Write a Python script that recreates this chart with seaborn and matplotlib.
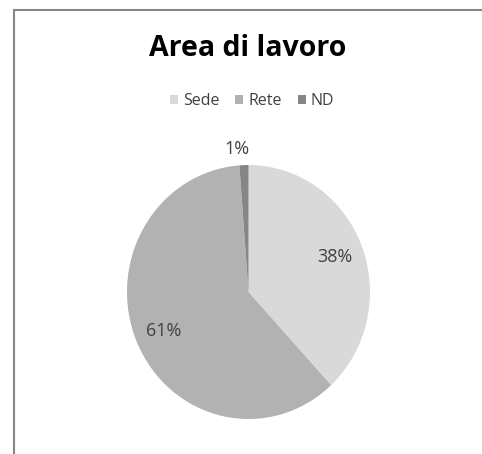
import numpy as np
import matplotlib.pyplot as plt
from matplotlib.patches import Rectangle
import seaborn as sns

# Data
categories = ['Sede', 'Rete', 'ND']
shares = [38.1, 60.7, 1.2]
colors = ['#d9d9d9', '#b2b2b2', '#868686']

sns.set_theme(style='white')
plt.rcParams['font.family'] = ['Open Sans', 'DejaVu Sans']

W, H = 482, 454
fig = plt.figure(figsize=(W / 100, H / 100), dpi=100)

# pie area (slightly taller than wide, as in the reference)
ax = fig.add_axes([127 / W, (H - 419) / H, 243 / W, 254 / H])
wedges, texts, autotexts = ax.pie(
    shares, colors=colors, startangle=90, counterclock=False,
    autopct='%.0f%%', pctdistance=0.76,
    wedgeprops={'linewidth': 0},
    textprops={'fontsize': 13, 'color': '#404040'})
ax.set_xlim(-1, 1)
ax.set_ylim(-1, 1)
ax.set_aspect('auto')
ax.axis('off')

# small slice: label outside, above the pie
w = wedges[2]
ang = np.deg2rad((w.theta1 + w.theta2) / 2)
autotexts[2].set_position((1.13 * np.cos(ang) - 0.05, 1.13 * np.sin(ang)))

fig.text(248 / W, 1 - 49 / H, 'Area di lavoro', ha='center', va='center',
         fontsize=20.5, fontweight='bold', color='black')

fig.legend(wedges, categories, loc='center', ncol=3,
           bbox_to_anchor=(252 / W, 1 - 101 / H), frameon=False,
           fontsize=11.5, handlelength=0.5, handleheight=0.5,
           handletextpad=0.3, columnspacing=1.0, labelcolor='#404040')

# chart frame (cut off on the right and bottom)
fig.add_artist(Rectangle((14 / W, -0.1), 1.2, 1.1 - 10 / H,
                         transform=fig.transFigure, fill=False,
                         edgecolor='#868686', linewidth=1.5))

fig.savefig('out.png', dpi=100)
